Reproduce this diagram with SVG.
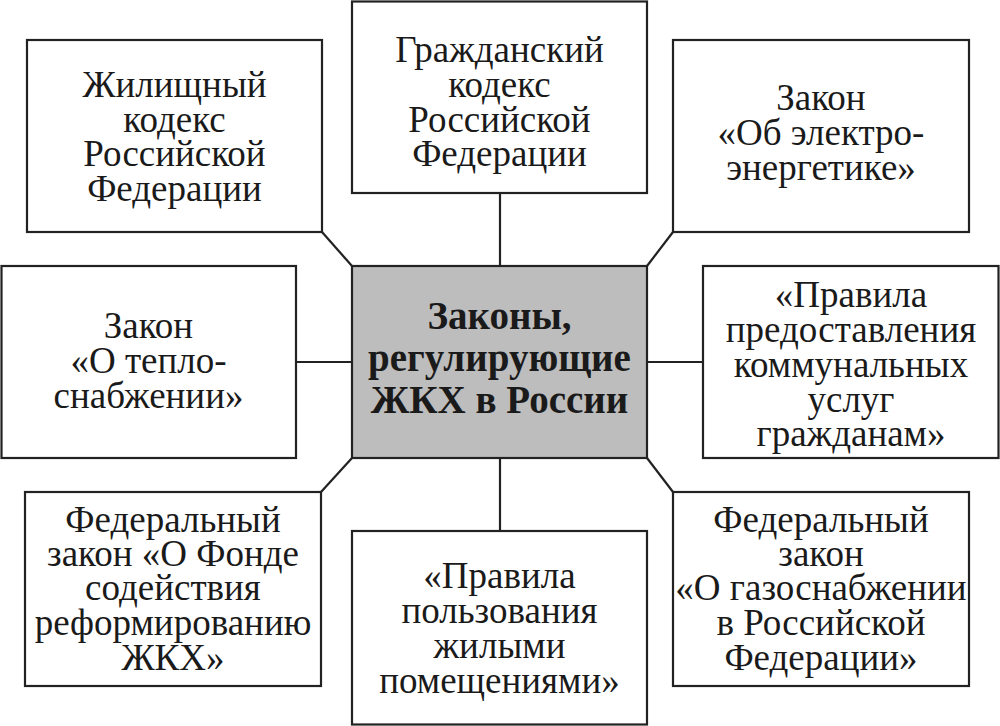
<svg xmlns="http://www.w3.org/2000/svg" width="1000" height="726" viewBox="0 0 1000 726">
<style>
.box{fill:#fff;stroke:#222;stroke-width:2.2}
.hub{fill:#bdbdbd;stroke:#222;stroke-width:2.2}
.t{font-family:"Liberation Serif","DejaVu Serif",serif;font-size:37px;fill:#1a1a1a;text-anchor:middle}
.b{font-family:"Liberation Serif","DejaVu Serif",serif;font-size:39px;font-weight:bold;fill:#1a1a1a;text-anchor:middle}
.c{stroke:#222;stroke-width:2.2;fill:none}
</style>
<rect x="0" y="0" width="1000" height="726" fill="#fff"/>
<g id="connectors">
<line class="c" x1="500" y1="193" x2="500" y2="266"/>
<line class="c" x1="322" y1="232" x2="352" y2="266"/>
<line class="c" x1="673" y1="232" x2="647" y2="266"/>
<line class="c" x1="296" y1="362" x2="352" y2="362"/>
<line class="c" x1="647" y1="362" x2="703" y2="362"/>
<line class="c" x1="321" y1="492" x2="352" y2="458"/>
<line class="c" x1="673" y1="492" x2="647" y2="458"/>
<line class="c" x1="500" y1="458" x2="500" y2="531"/>
</g>
<g id="hub">
<rect class="hub" x="352" y="266" width="295" height="192"/>
<text class="b" x="499.5" y="329">Законы,</text>
<text class="b" x="499.5" y="371">регулирующие</text>
<text class="b" x="499.5" y="413">ЖКХ в России</text>
</g>
<g id="n-housing">
<rect class="box" x="27" y="40" width="295" height="192"/>
<text class="t" x="174.5" y="97">Жилищный</text>
<text class="t" x="174.5" y="131.5">кодекс</text>
<text class="t" x="174.5" y="166">Российской</text>
<text class="t" x="174.5" y="200.5">Федерации</text>
</g>
<g id="n-civil">
<rect class="box" x="352" y="1.5" width="295" height="191.5"/>
<text class="t" x="499.5" y="62">Гражданский</text>
<text class="t" x="499.5" y="97">кодекс</text>
<text class="t" x="499.5" y="132">Российской</text>
<text class="t" x="499.5" y="166">Федерации</text>
</g>
<g id="n-electro">
<rect class="box" x="673" y="40" width="296" height="192"/>
<text class="t" x="821" y="110">Закон</text>
<text class="t" x="821" y="145">«Об электро-</text>
<text class="t" x="821" y="180">энергетике»</text>
</g>
<g id="n-heat">
<rect class="box" x="1.5" y="266" width="294.5" height="192"/>
<text class="t" x="148.5" y="338">Закон</text>
<text class="t" x="148.5" y="373">«О тепло-</text>
<text class="t" x="148.5" y="408">снабжении»</text>
</g>
<g id="n-utility">
<rect class="box" x="703" y="266" width="295.5" height="192"/>
<text class="t" x="851" y="307">«Правила</text>
<text class="t" x="851" y="342">предоставления</text>
<text class="t" x="851" y="377">коммунальных</text>
<text class="t" x="851" y="412">услуг</text>
<text class="t" x="851" y="446">гражданам»</text>
</g>
<g id="n-fund">
<rect class="box" x="25" y="492" width="296" height="194"/>
<text class="t" x="173" y="532">Федеральный</text>
<text class="t" x="173" y="566">закон «О Фонде</text>
<text class="t" x="173" y="600">содействия</text>
<text class="t" x="173" y="635">реформированию</text>
<text class="t" x="173" y="670">ЖКХ»</text>
</g>
<g id="n-dwelling">
<rect class="box" x="352" y="531" width="295" height="193.5"/>
<text class="t" x="499.5" y="588">«Правила</text>
<text class="t" x="499.5" y="623">пользования</text>
<text class="t" x="499.5" y="658">жилыми</text>
<text class="t" x="499.5" y="693">помещениями»</text>
</g>
<g id="n-gas">
<rect class="box" x="673" y="492" width="296" height="194"/>
<text class="t" x="821" y="532">Федеральный</text>
<text class="t" x="821" y="566">закон</text>
<text class="t" x="821" y="600">«О газоснабжении</text>
<text class="t" x="821" y="635">в Российской</text>
<text class="t" x="821" y="670">Федерации»</text>
</g>
</svg>
